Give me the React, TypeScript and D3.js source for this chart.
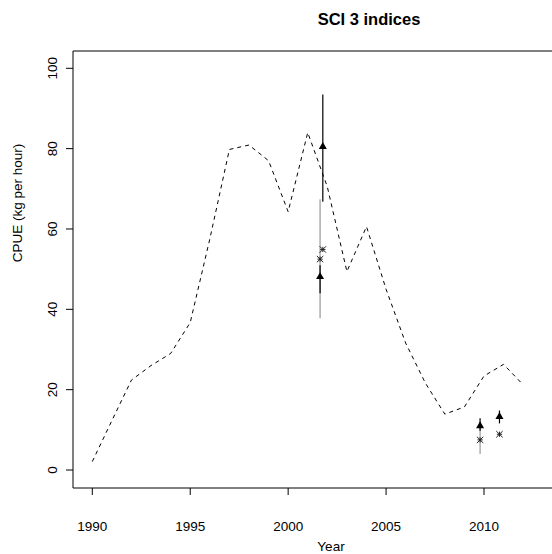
import React from 'react';
import * as d3 from 'd3';

// annual CPUE series (dashed line)
const YEARS = [1990, 1991, 1992, 1993, 1994, 1995, 1996, 1997, 1998, 1999, 2000, 2001,
  2002, 2003, 2004, 2005, 2006, 2007, 2008, 2009, 2010, 2011, 2012];
const CPUE = [2.1, 12.3, 22.4, 26.0, 29.0, 36.7, 57.5, 79.8, 80.9, 77.0, 64.3, 84.0,
  70.5, 49.4, 60.6, 45.0, 31.6, 21.7, 13.9, 15.7, 23.4, 26.3, 21.2];

// survey index 1 (filled triangles, black bars)
const TRI_YEAR = [2001.63, 2001.77, 2009.8, 2010.79];
const TRI_VAL = [48.1, 80.5, 11.0, 13.3];
const TRI_LO = [44.0, 66.8, 9.8, 11.6];
const TRI_HI = [51.0, 93.5, 12.9, 14.8];

// survey index 2 (asterisks, grey bars)
const STAR_YEAR = [2001.63, 2001.77, 2009.8, 2010.79];
const STAR_VAL = [52.5, 54.9, 7.5, 8.9];
const STAR_LO = [37.8, 54.9, 4.0, 8.9];
const STAR_HI = [67.4, 54.9, 11.0, 8.9];

const X_TICKS = [1990, 1995, 2000, 2005, 2010];
const Y_TICKS = [0, 20, 40, 60, 80, 100];

const W = 552;
const H = 554;
const LEFT = 73;
const TOP = 51;
const BOTTOM = 488;
const FONT = '"Liberation Sans", Arial, Helvetica, sans-serif';

export default function App() {
  const x = d3.scaleLinear().domain([1990, 2010]).range([92.3, 484]);
  const y = d3.scaleLinear().domain([0, 100]).range([470, 68.3]);

  const line = d3.line<number>()
    .x((_, i) => x(YEARS[i]))
    .y((d) => y(d));

  const tri = d3.symbol().type(d3.symbolTriangle).size(28);

  return (
    <svg
      width={W}
      height={H}
      viewBox={`0 0 ${W} ${H}`}
      style={{ position: 'absolute', left: 0, top: 0, background: '#fff', fontFamily: FONT }}
    >
      <rect width={W} height={H} fill="#fff" />

      {/* plot frame (right side runs off the picture) */}
      <path
        d={`M${W + 10},${TOP}H${LEFT}V${BOTTOM}H${W + 10}`}
        fill="none"
        stroke="#000"
        strokeWidth={1}
      />

      {/* x axis */}
      {X_TICKS.map((t) => (
        <g key={t}>
          <line x1={x(t)} x2={x(t)} y1={BOTTOM} y2={BOTTOM + 7} stroke="#000" />
          <text x={x(t)} y={530.5} textAnchor="middle" fontSize={13.5}>{t}</text>
        </g>
      ))}
      <text x={331} y={551} textAnchor="middle" fontSize={13.5}>Year</text>

      {/* y axis */}
      {Y_TICKS.map((t) => (
        <g key={t}>
          <line x1={LEFT - 7} x2={LEFT} y1={y(t)} y2={y(t)} stroke="#000" />
          <text
            transform={`translate(56.5,${y(t)}) rotate(-90)`}
            textAnchor="middle"
            fontSize={13.5}
          >
            {t}
          </text>
        </g>
      ))}
      <text
        transform={`translate(22,203) rotate(-90)`}
        textAnchor="middle"
        fontSize={13.5}
      >
        CPUE (kg per hour)
      </text>

      <text x={369} y={25} textAnchor="middle" fontSize={16.5} fontWeight="bold">
        SCI 3 indices
      </text>

      {/* dashed series */}
      <path d={line(CPUE) ?? ''} fill="none" stroke="#000" strokeWidth={1} strokeDasharray="4,4" />

      {/* grey error bars */}
      {STAR_YEAR.map((yr, i) => (
        <line
          key={`sb${i}`}
          x1={x(yr)}
          x2={x(yr)}
          y1={y(STAR_LO[i])}
          y2={y(STAR_HI[i])}
          stroke="#999"
          strokeWidth={1.2}
        />
      ))}

      {/* black error bars */}
      {TRI_YEAR.map((yr, i) => (
        <line
          key={`tb${i}`}
          x1={x(yr)}
          x2={x(yr)}
          y1={y(TRI_LO[i])}
          y2={y(TRI_HI[i])}
          stroke="#000"
          strokeWidth={1.2}
        />
      ))}

      {/* triangles */}
      {TRI_YEAR.map((yr, i) => (
        <path
          key={`t${i}`}
          d={tri() ?? ''}
          transform={`translate(${x(yr)},${y(TRI_VAL[i])})`}
          fill="#000"
        />
      ))}

      {/* asterisks */}
      {STAR_YEAR.map((yr, i) => {
        const cx = x(yr);
        const cy = y(STAR_VAL[i]);
        const r = 3.2;
        const d = 2.6;
        return (
          <g key={`s${i}`} stroke="#222" strokeWidth={1}>
            <line x1={cx - r} x2={cx + r} y1={cy - r} y2={cy + r} />
            <line x1={cx - r} x2={cx + r} y1={cy + r} y2={cy - r} />
            <line x1={cx - d} x2={cx + d} y1={cy} y2={cy} />
            <line x1={cx} x2={cx} y1={cy - d} y2={cy + d} />
          </g>
        );
      })}
    </svg>
  );
}
